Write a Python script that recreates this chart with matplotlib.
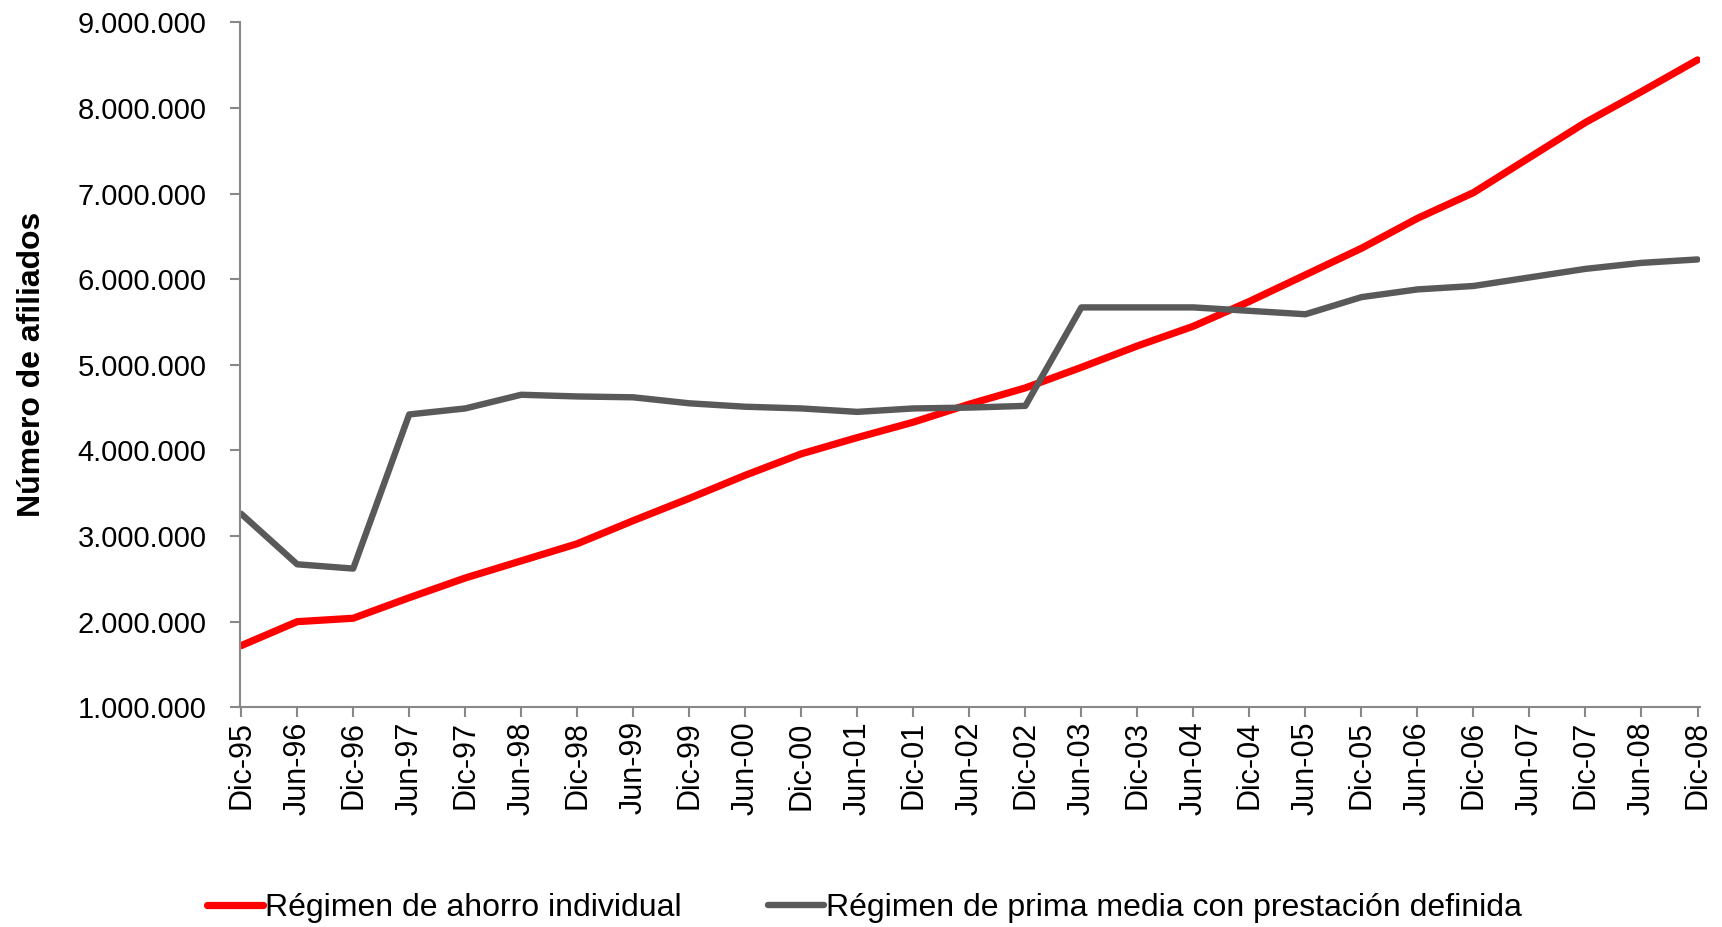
import matplotlib as mpl
mpl.use('Agg')
import matplotlib.pyplot as plt
from matplotlib.ticker import FuncFormatter

# Periodos (semestrales)
periodos = ['Dic-95', 'Jun-96', 'Dic-96', 'Jun-97', 'Dic-97', 'Jun-98', 'Dic-98',
            'Jun-99', 'Dic-99', 'Jun-00', 'Dic-00', 'Jun-01', 'Dic-01', 'Jun-02',
            'Dic-02', 'Jun-03', 'Dic-03', 'Jun-04', 'Dic-04', 'Jun-05', 'Dic-05',
            'Jun-06', 'Dic-06', 'Jun-07', 'Dic-07', 'Jun-08', 'Dic-08']

# Afiliados por regimen
ahorro_individual = [1720000, 2000000, 2040000, 2280000, 2510000, 2710000, 2910000,
                     3180000, 3440000, 3710000, 3960000, 4150000, 4330000, 4540000,
                     4730000, 4970000, 5220000, 5450000, 5740000, 6050000, 6360000,
                     6710000, 7010000, 7420000, 7830000, 8190000, 8560000]
prima_media = [3260000, 2670000, 2620000, 4420000, 4490000, 4650000, 4630000,
               4620000, 4550000, 4510000, 4490000, 4450000, 4490000, 4500000,
               4520000, 5670000, 5670000, 5670000, 5630000, 5590000, 5790000,
               5880000, 5920000, 6020000, 6120000, 6190000, 6230000]

plt.rcParams['font.family'] = ['Liberation Sans', 'DejaVu Sans']

fig = plt.figure(figsize=(17.22, 9.27), dpi=100)
ax = fig.add_axes([0.1394, 0.237, 0.848, 0.739])

x = list(range(len(periodos)))
ax.plot(x, ahorro_individual, color='#ff0000', linewidth=5.2,
        solid_capstyle='round', label='Régimen de ahorro individual')
ax.plot(x, prima_media, color='#595959', linewidth=4.6,
        solid_capstyle='round', label='Régimen de prima media con prestación definida')

ax.set_xlim(-0.02, len(periodos) - 1 + 0.05)
ax.set_ylim(1000000, 9000000)
ax.set_yticks(range(1000000, 9000001, 1000000))
ax.yaxis.set_major_formatter(FuncFormatter(lambda v, p: f'{int(v):,}'.replace(',', '.')))
ax.set_xticks(x)
ax.set_xticklabels(periodos, rotation=90)

for s in ['top', 'right']:
    ax.spines[s].set_visible(False)
for s in ['left', 'bottom']:
    ax.spines[s].set_color('#888888')
    ax.spines[s].set_linewidth(1.5)
ax.tick_params(axis='both', colors='#888888', length=7, width=1.5,
               labelcolor='black')
ax.tick_params(axis='y', labelsize=21, pad=17)
ax.tick_params(axis='x', labelsize=22, pad=3)

ax.set_ylabel('Número de afiliados', fontsize=23, fontweight='bold')
ax.yaxis.set_label_coords(-0.132, 0.5)

fig.legend(loc='center', bbox_to_anchor=(0.502, 0.0205), ncol=2, frameon=False,
           fontsize=23, handlelength=1.75, handletextpad=0.08, columnspacing=2.7)

plt.savefig('out.png', dpi=100)
plt.close()
